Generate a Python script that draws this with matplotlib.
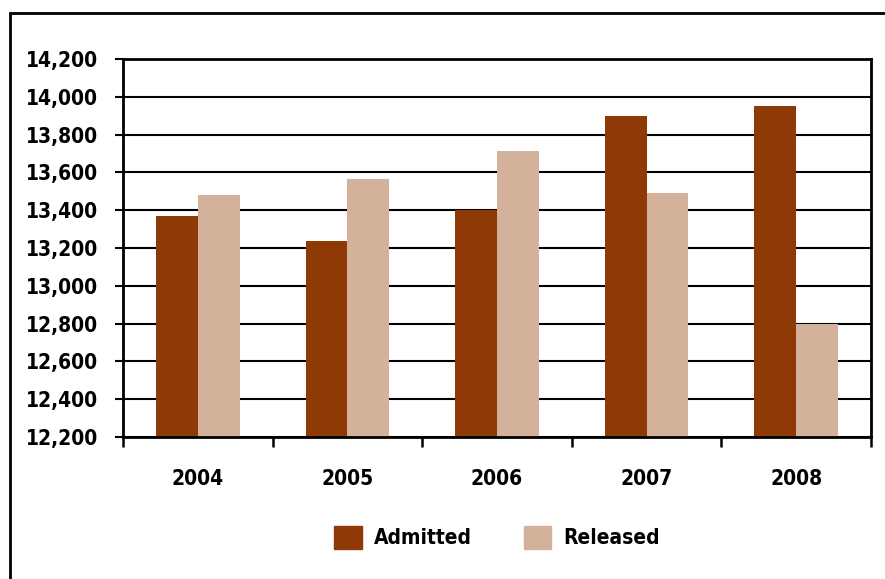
import numpy as np
import matplotlib.pyplot as plt
from matplotlib.patches import Rectangle, Patch
from matplotlib.ticker import FuncFormatter

plt.rcParams['font.family'] = ['DejaVu Sans']
plt.rcParams['font.stretch'] = 'condensed'
plt.rcParams['font.weight'] = 'bold'

# admissions vs releases per year
years = ['2004', '2005', '2006', '2007', '2008']
admitted = [13370, 13237, 13400, 13898, 13950]
released = [13480, 13565, 13713, 13490, 12800]

col_adm = '#8F3A06'
col_rel = '#D4B19B'

fig = plt.figure(figsize=(8.85, 5.79), dpi=100)
# outer frame running off the right and bottom edges
fig.patches.append(Rectangle((10 / 885, -0.1), 1.2, 1 - 13 / 579 + 0.1,
                             transform=fig.transFigure, fill=False,
                             edgecolor='black', linewidth=2))

ax = fig.add_axes([123 / 885, 1 - 437 / 579, (871 - 123) / 885, (437 - 59) / 579])

x = np.arange(len(years))
w = 0.28
ax.bar(x - w / 2, admitted, w, color=col_adm, zorder=3)
ax.bar(x + w / 2, released, w, color=col_rel, zorder=3)

ax.set_ylim(12200, 14200)
ax.set_xlim(-0.5, len(years) - 0.5)
ax.set_yticks(np.arange(12200, 14201, 200))
ax.yaxis.set_major_formatter(FuncFormatter(lambda v, p: f'{int(v):,}'))
ax.grid(axis='y', color='black', linewidth=1.5, zorder=0)

ax.set_xticks(x)
ax.set_xticklabels(years)
ax.set_xticks(np.arange(-0.5, len(years)), minor=True)
ax.tick_params(axis='x', which='major', length=0, pad=23, labelsize=15)
ax.tick_params(axis='x', which='minor', length=7, width=1.8, direction='out')
ax.tick_params(axis='y', length=6, width=1.5, pad=12, labelsize=15)

for s in ax.spines.values():
    s.set_linewidth(2)
    s.set_zorder(4)

handles = [Patch(color=col_adm, label='Admitted'), Patch(color=col_rel, label='Released')]
fig.legend(handles=handles, loc='center', bbox_to_anchor=(0.562, 0.072), ncol=2,
           frameon=False, fontsize=15, handlelength=1.3, handleheight=1.3,
           handletextpad=0.6, columnspacing=2.5)

plt.savefig('out.png', dpi=100)
